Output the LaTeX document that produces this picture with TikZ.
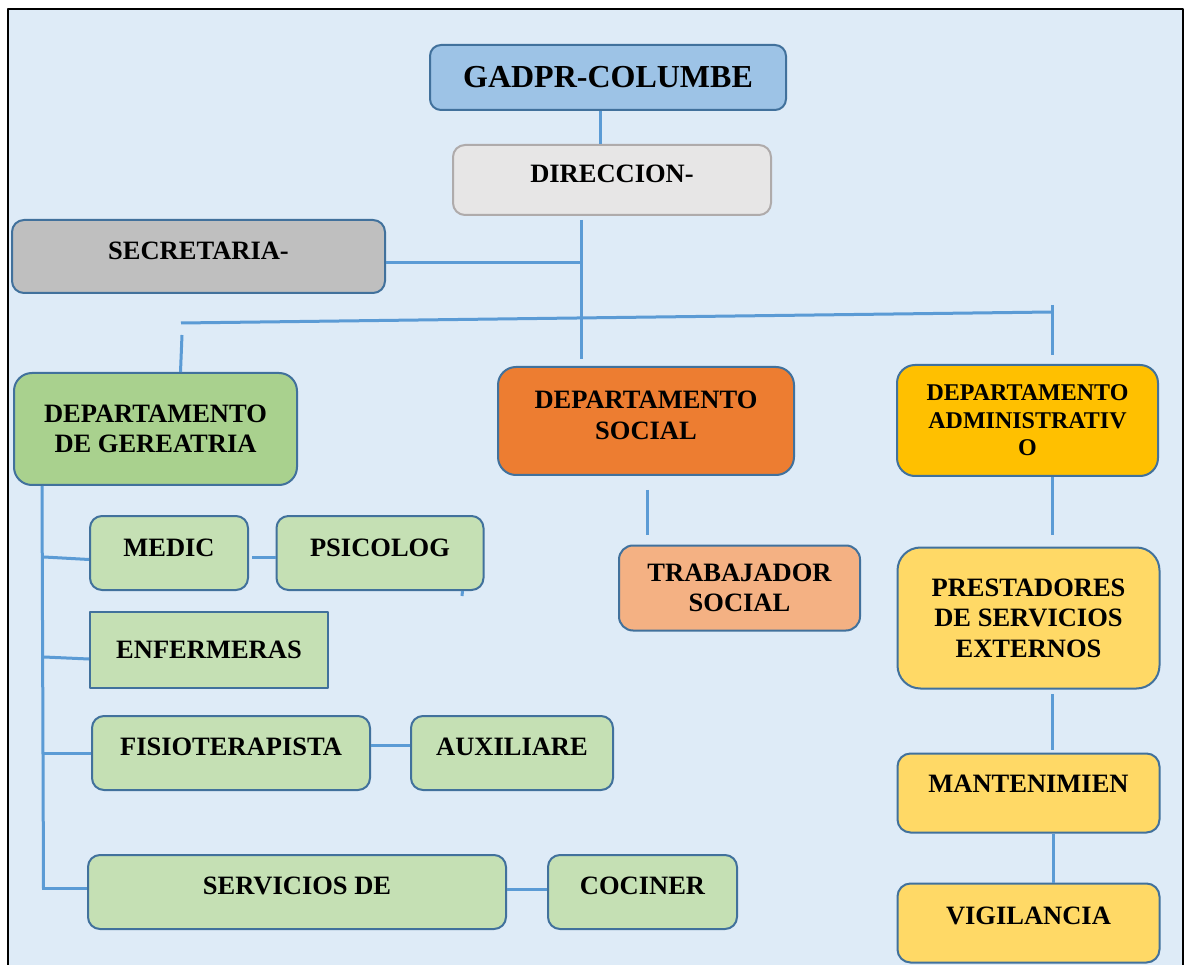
\documentclass[tikz,border=0pt]{standalone}
\usepackage{fontspec}
\setmainfont{Liberation Serif}
\usetikzlibrary{positioning}
\definecolor{bgblue}{HTML}{DEEBF7}
\definecolor{lineblue}{HTML}{5B9BD5}
\definecolor{edgeblue}{HTML}{41719C}
\definecolor{topblue}{HTML}{9DC3E6}
\definecolor{dirgray}{HTML}{E7E6E6}
\definecolor{diredge}{HTML}{AFABAB}
\definecolor{secgray}{HTML}{BFBFBF}
\definecolor{gergreen}{HTML}{A9D18E}
\definecolor{subgreen}{HTML}{C5E0B4}
\definecolor{socorange}{HTML}{ED7D31}
\definecolor{trabsalmon}{HTML}{F4B183}
\definecolor{admgold}{HTML}{FFC000}
\definecolor{extyellow}{HTML}{FFD966}

\begin{document}
\begin{tikzpicture}[x=1pt,y=-1pt,line join=round]
 \tikzstyle{conn}=[draw=lineblue,line width=3pt]
 \tikzstyle{box}=[rectangle,rounded corners=12pt,draw=edgeblue,line width=2pt,inner sep=0pt,align=center,font=\fontsize{26.5}{30.5}\selectfont\bfseries]
 \tikzset{
 	lifted/.style={text depth=12pt},
 	top node/.style={box,fill=topblue,minimum width=356pt,minimum height=65pt,rounded corners=11pt,font=\fontsize{32}{36}\selectfont\bfseries},
 	dir node/.style={box,fill=dirgray,draw=diredge,minimum width=318pt,minimum height=70pt},
 	sec node/.style={box,fill=secgray,minimum width=373pt,minimum height=73pt},
 	ger node/.style={box,fill=gergreen,minimum width=283pt,minimum height=112pt,rounded corners=18pt},
 	soc node/.style={box,fill=socorange,minimum width=296pt,minimum height=108pt,rounded corners=18pt},
 	adm node/.style={box,fill=admgold,minimum width=261pt,minimum height=111pt,rounded corners=18pt,font=\fontsize{24}{27.5}\selectfont\bfseries},
 	trab node/.style={box,fill=trabsalmon,minimum width=241pt,minimum height=85pt,rounded corners=14pt},
 	ext node/.style={box,fill=extyellow,minimum width=262pt},
 	sub node/.style={box,fill=subgreen,minimum height=74pt}
 }

 \useasboundingbox (0,0) rectangle (1184,965);
 \fill[bgblue] (7.5,9.5) rectangle (1182.5,965);
 \draw[line width=2pt] (7.5,965) |- (1182.5,9.5) -- (1182.5,965);

       \node[top node] (gadpr) at (608,77.5) {GADPR-COLUMBE};
       \node[dir node,lifted] (dir) at (612,180) {DIRECCION-};
       \node[sec node,lifted] (sec) at (198.5,256.5) {SECRETARIA-};

       \node[ger node] (ger) at (155.5,429) {DEPARTAMENTO\\DE GEREATRIA};
       \node[soc node,lifted] (soc) at (646,421) {DEPARTAMENTO\\SOCIAL};
       \node[adm node] (adm) at (1027.5,420.5) {DEPARTAMENTO\\ADMINISTRATIV\\O};

       \node[trab node] (trab) at (739.5,588) {TRABAJADOR\\SOCIAL};

       \node[ext node,minimum height=141pt,rounded corners=23pt] (prest) at (1028.5,618) {PRESTADORES\\DE SERVICIOS\\EXTERNOS};
       \node[ext node,minimum height=79pt,rounded corners=13pt,text depth=18pt] (mant) [node distance=175pt,below of=prest] {MANTENIMIEN};
       \node[ext node,minimum height=79pt,rounded corners=13pt,text depth=14pt] (vig) [node distance=130pt,below of=mant] {VIGILANCIA};

       \node[sub node,minimum width=158pt,text depth=11pt] (medic) at (169,553) {MEDIC};
       \node[sub node,minimum width=207pt,text depth=11pt] (psic) [node distance=211pt,right of=medic] {PSICOLOG};
       \node[sub node,sharp corners,minimum width=238pt,minimum height=76pt] (enf) at (209,650) {ENFERMERAS};
       \node[sub node,minimum width=278pt,lifted] (fisio) at (231,753) {FISIOTERAPISTA};
       \node[sub node,minimum width=202pt,lifted] (aux) [node distance=281pt,right of=fisio] {AUXILIARE};
       \node[sub node,minimum width=418pt,lifted] (serv) at (297,892) {SERVICIOS DE};
       \node[sub node,minimum width=189pt,lifted] (coc) [node distance=345.5pt,right of=serv] {COCINER};

       \coordinate (trunk top) at (581.5,220);
       \coordinate (trunk end) at (581.5,359);
       \coordinate (sec joint) at (581.5,263);
       \coordinate (bar left) at (181,323);
       \coordinate (bar right) at (1052,312);
       \coordinate (tick top) at (1052,305);
       \coordinate (tick end) at (1052,355);
       \coordinate (drop top) at (182,335);
       \coordinate (adm end) at (1052,535);
       \coordinate (prest top) at (1052,694);
       \coordinate (prest end) at (1052,750);
       \coordinate (soc top) at (647.5,490);
       \coordinate (soc end) at (647.5,535);
       \coordinate (psic end) at (462,596);
       \coordinate (spine top) at (42,486);
       \coordinate (spine end) at (43.5,888.5);
       \coordinate (b1) at (44,557);
       \coordinate (b2) at (44,657);
       \coordinate (b3) at (44,753);
       \coordinate (b4) at (42,888);

     \path[conn] ([xshift=-7.5pt]gadpr.south) edge ([xshift=-11.5pt]dir.north);
     \path[conn] (trunk top) edge (trunk end);
     \path[conn] ([yshift=-6.5pt]sec.east) edge (sec joint);
     \path[conn] (bar left) edge (bar right);
     \path[conn] (tick top) edge (tick end);
     \path[conn] (drop top) edge ([xshift=25pt]ger.north);

     \path[conn] ([xshift=24.5pt]adm.south) edge (adm end);
     \path[conn] (prest top) edge (prest end);
     \path[conn] ([xshift=24.5pt]mant.south) edge ([xshift=24.5pt]vig.north);
     \path[conn] (soc top) edge (soc end);

     \path[conn] (spine top) edge (spine end);
     \path[conn] (b1) edge ([yshift=-6.5pt]medic.west);
     \path[conn] (b2) edge ([yshift=-9pt]enf.west);
     \path[conn] (b3) edge (fisio.west);
     \path[conn] (b4) edge ([yshift=4pt]serv.west);
     \path[conn] ([xshift=3pt,yshift=-4pt]medic.east) edge ([yshift=-4pt]psic.west);
     \path[conn] ([xshift=82.5pt]psic.south) edge (psic end);
     \path[conn] ([yshift=8pt]fisio.east) edge ([yshift=8pt]aux.west);
     \path[conn] ([yshift=3pt]serv.east) edge ([yshift=3pt]coc.west);
 \end{tikzpicture}
\end{document}
